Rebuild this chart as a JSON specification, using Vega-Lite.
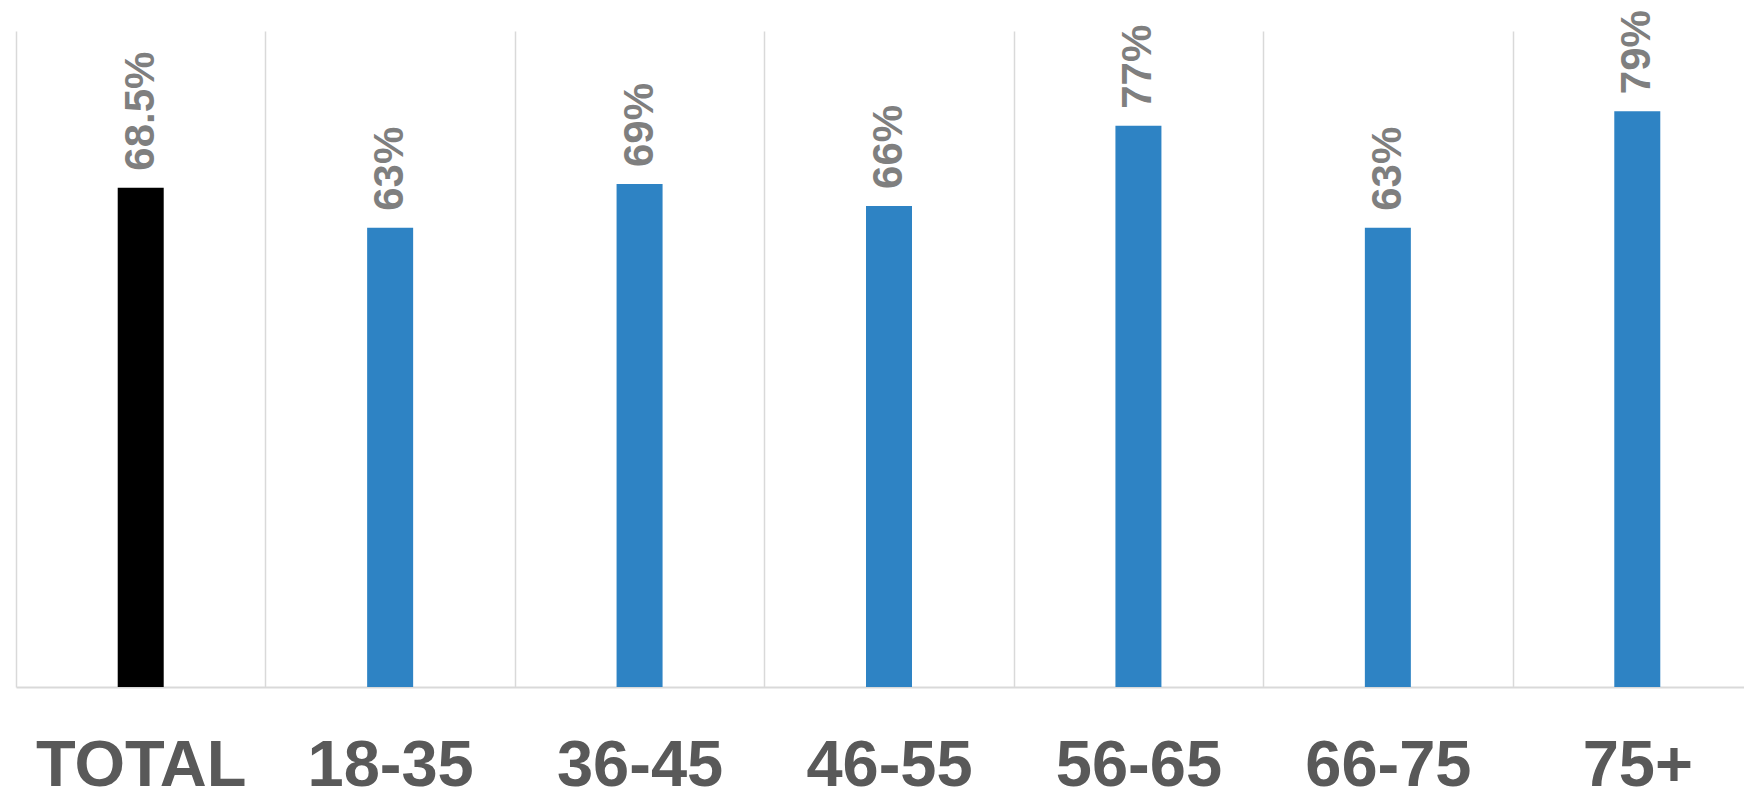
{
  "$schema": "https://vega.github.io/schema/vega-lite/v6.json",
  "autosize": {"type": "none"},
  "width": 1728,
  "height": 656,
  "padding": {"left": 16, "top": 31, "right": 0, "bottom": 105},
  "background": "white",
  "config": {"view": {"stroke": null}, "font": "Liberation Sans"},
  "data": {
    "values": [
      {"group": "TOTAL", "value": 0.685, "kind": "total"},
      {"group": "18-35", "value": 0.63, "kind": "age"},
      {"group": "36-45", "value": 0.69, "kind": "age"},
      {"group": "46-55", "value": 0.66, "kind": "age"},
      {"group": "56-65", "value": 0.77, "kind": "age"},
      {"group": "66-75", "value": 0.63, "kind": "age"},
      {"group": "75+", "value": 0.79, "kind": "age"}
    ]
  },
  "encoding": {
    "x": {
      "field": "group",
      "type": "nominal",
      "sort": null,
      "scale": {"range": [0, 1746], "paddingInner": 0, "paddingOuter": 0},
      "axis": {
        "title": null,
        "labelAngle": 0,
        "labelFont": "Liberation Sans",
        "labelFontSize": 65,
        "labelFontWeight": "bold",
        "labelColor": "#595959",
        "labelPadding": 47,
        "labelBaseline": "top",
        "labelLimit": 0,
        "labelOverlap": false,
        "ticks": false,
        "tickBand": "extent",
        "grid": true,
        "gridColor": "#d9d9d9",
        "gridWidth": 1.5,
        "domainColor": "#d9d9d9",
        "domainWidth": 2
      }
    },
    "y": {
      "field": "value",
      "type": "quantitative",
      "scale": {"domain": [0, 0.9]},
      "axis": null
    }
  },
  "layer": [
    {
      "mark": {"type": "bar", "width": 46},
      "encoding": {
        "color": {
          "field": "kind",
          "type": "nominal",
          "scale": {"domain": ["total", "age"], "range": ["#000000", "#2E83C4"]},
          "legend": null
        }
      }
    },
    {
      "mark": {
        "type": "text",
        "angle": 270,
        "align": "left",
        "baseline": "middle",
        "dx": 17,
        "font": "Liberation Sans",
        "fontSize": 42,
        "fontWeight": "bold",
        "color": "#7f7f7f"
      },
      "encoding": {
        "text": {"field": "value", "type": "quantitative", "format": ".1~%"}
      }
    }
  ]
}
